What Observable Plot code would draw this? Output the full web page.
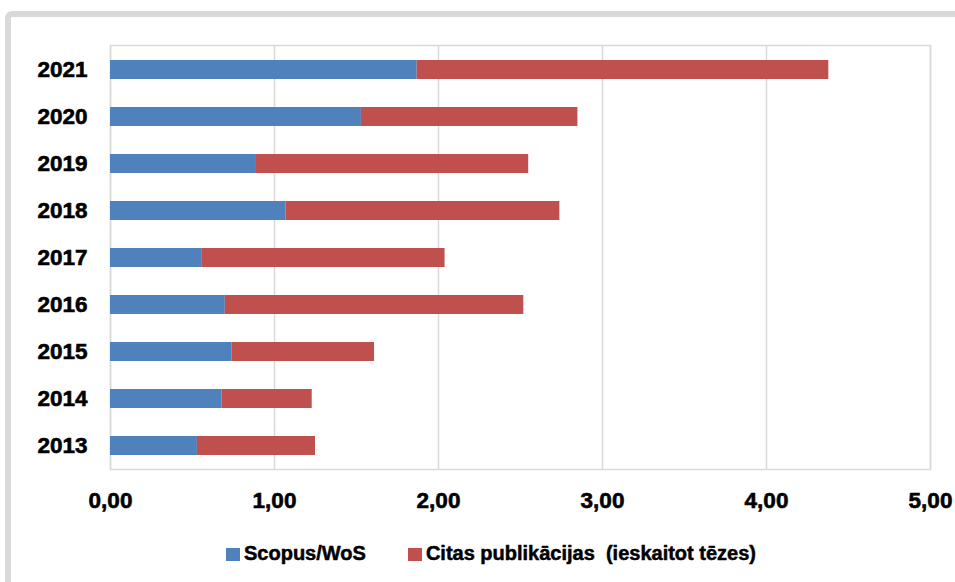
<!DOCTYPE html>
<html>
<head>
<meta charset="utf-8">
<script src="https://cdn.jsdelivr.net/npm/d3@7"></script>
<script src="https://cdn.jsdelivr.net/npm/@observablehq/plot@0.6"></script>
<style>
  html, body { margin: 0; padding: 0; background: #fff; overflow: hidden; }
  #wrap { position: relative; width: 955px; height: 582px; overflow: hidden; background: #fff; }
  #frame { position: absolute; left: 5px; top: 11px; width: 980px; height: 620px;
           border: 6px solid #d9d9d9; border-radius: 7px; box-sizing: border-box; }
  #chart { position: absolute; left: 0; top: 0; }
  #chart svg text { stroke: #000; stroke-width: 0.6px; }
  #legend { position: absolute; left: 226px; top: 543px; display: flex; align-items: center;
            font-family: "Liberation Sans", Arial, sans-serif; font-weight: bold; font-size: 20px;
            line-height: 20px; color: #000; white-space: pre; -webkit-text-stroke: 0.5px #000; }
  .sw { width: 14px; height: 13px; display: inline-block; margin-right: 4px; margin-top: 2px; }
  .item { display: flex; align-items: center; }
</style>
</head>
<body>
<div id="wrap">
  <div id="frame"></div>
  <div id="chart"></div>
  <div id="legend"></div>
</div>
<script>
const years = ["2021", "2020", "2019", "2018", "2017", "2016", "2015", "2014", "2013"];
const seriesNames = ["Scopus/WoS", "Citas publikācijas  (ieskaitot tēzes)"];
const scopus = [1.87, 1.53, 0.89, 1.07, 0.56, 0.70, 0.74, 0.68, 0.53];
const citas  = [2.51, 1.32, 1.66, 1.67, 1.48, 1.82, 0.87, 0.55, 0.72];
const colors = ["#4F81BD", "#C0504D"];
const xTicks = [0, 1, 2, 3, 4, 5];

const rows = [];
years.forEach((y, i) => {
  rows.push({year: y, series: seriesNames[0], value: scopus[i]});
  rows.push({year: y, series: seriesNames[1], value: citas[i]});
});

const fmt = d => d.toFixed(2).replace(".", ",");

const chart = Plot.plot({
  width: 955,
  height: 520,
  marginLeft: 110,
  marginRight: 25,
  marginTop: 45,
  marginBottom: 51,
  style: {fontFamily: "Liberation Sans, Arial, sans-serif", fontSize: "22.5px", fontWeight: "bold", color: "#000", background: "transparent"},
  x: {domain: [0, 5], ticks: xTicks, tickFormat: fmt},
  y: {domain: years, paddingInner: 0.6, paddingOuter: 0.3},
  color: {domain: seriesNames, range: colors},
  marks: [
    Plot.gridX(xTicks, {stroke: "#d9d9d9", strokeOpacity: 1, strokeWidth: 1.5}),
    Plot.frame({stroke: "#d9d9d9", strokeWidth: 1.5}),
    Plot.barX(rows, Plot.stackX({y: "year", x: "value", fill: "series", order: null})),
    Plot.axisX({ticks: xTicks, tickFormat: fmt, tickSize: 0, tickPadding: 23, label: null}),
    Plot.axisY({tickSize: 0, tickPadding: 23, label: null})
  ]
});
document.getElementById("chart").appendChild(chart);

const legend = document.getElementById("legend");
seriesNames.forEach((name, i) => {
  const item = document.createElement("div");
  item.className = "item";
  if (i > 0) item.style.marginLeft = "42px";
  const sw = document.createElement("span");
  sw.className = "sw";
  sw.style.background = colors[i];
  const t = document.createElement("span");
  t.textContent = name;
  item.appendChild(sw);
  item.appendChild(t);
  legend.appendChild(item);
});
</script>
</body>
</html>
